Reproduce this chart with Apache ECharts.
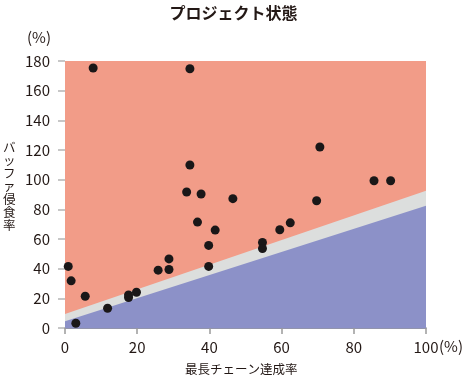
<!DOCTYPE html>
<html><head><meta charset="utf-8">
<script src="https://cdn.jsdelivr.net/npm/echarts@6/dist/echarts.min.js"></script>
<style>html,body{margin:0;padding:0;background:#fff}#c{width:467px;height:379px}</style>
</head><body><div id="c"></div>
<script>
const xTicks = [0, 20, 40, 60, 80, 100];
const yTicks = [0, 20, 40, 60, 80, 100, 120, 140, 160, 180];
const bandTop = [[0, 9.5], [100, 92.5]];
const blueTop = [[0, 4.5], [100, 82.5]];
const pointsX = [7.8, 34.6, 34.6, 33.7, 37.7, 46.5, 70.6, 85.6, 90.2, 69.7,
  0.9, 1.7, 3.0, 5.6, 11.8, 17.6, 17.6, 19.8, 25.8, 28.8, 28.8,
  36.7, 41.6, 39.8, 39.8, 54.7, 54.7, 59.5, 62.4];
const pointsY = [175.3, 174.8, 109.9, 91.7, 90.3, 87.2, 122, 99.3, 99.3, 85.8,
  41.5, 31.8, 3.2, 21.4, 13.3, 22.3, 20.5, 24.1, 39.0, 46.6, 39.4,
  71.4, 66.0, 55.7, 41.5, 57.7, 53.6, 66.2, 70.9];
const points = pointsX.map((x, i) => [x, pointsY[i]]);
const FONT = '"Noto Sans CJK JP", "Noto Sans", sans-serif';

const chart = echarts.init(document.getElementById('c'), null, {renderer: 'canvas'});
chart.setOption({
  animation: false,
  backgroundColor: '#ffffff',
  textStyle: {fontFamily: FONT},
  title: {
    text: 'プロジェクト状態', left: 'center', top: 0,
    textStyle: {fontSize: 16, fontWeight: 'bold', color: '#231815', fontFamily: FONT}
  },
  grid: {
    left: 65, right: 41, top: 61, bottom: 51,
    show: true, backgroundColor: '#f29c88', borderWidth: 0
  },
  xAxis: {
    type: 'value', min: xTicks[0], max: xTicks[xTicks.length - 1], interval: 20,
    axisLine: {show: true, lineStyle: {color: '#6f7191', width: 1.5}},
    axisTick: {show: true, length: 6, lineStyle: {color: '#9a9a9a', width: 1.5}},
    axisLabel: {fontSize: 15, color: '#231815', margin: 12, fontFamily: FONT},
    splitLine: {show: false}
  },
  yAxis: {
    type: 'value', min: yTicks[0], max: yTicks[yTicks.length - 1], interval: 20,
    axisLine: {show: false},
    axisTick: {show: true, length: 7, lineStyle: {color: '#b5b5b5', width: 1.5}},
    axisLabel: {fontSize: 15, color: '#231815', margin: 15, fontFamily: FONT},
    splitLine: {show: false}
  },
  graphic: [
    {type: 'text', left: 27, top: 30, style: {text: '(%)', font: '15px ' + FONT, fill: '#231815'}},
    {type: 'text', left: 439, top: 339, style: {text: '(%)', font: '15px ' + FONT, fill: '#231815'}},
    {type: 'text', left: 185, top: 363, style: {text: '最長チェーン達成率', font: '12.5px ' + FONT, fill: '#231815'}},
    {type: 'text', left: 3, top: 141, style: {text: 'バ\nッ\nフ\nァ\n侵\n食\n率', font: '12.5px ' + FONT, fill: '#231815', lineHeight: 13, align: 'center'}}
  ],
  series: [
    {
      type: 'line', data: bandTop, symbol: 'none', silent: true,
      lineStyle: {width: 0}, areaStyle: {color: '#dcdedd', opacity: 1}, z: 1
    },
    {
      type: 'line', data: blueTop, symbol: 'none', silent: true,
      lineStyle: {width: 0}, areaStyle: {color: '#8c91c8', opacity: 1}, z: 2
    },
    {
      type: 'scatter', data: points, symbol: 'circle', symbolSize: 9,
      itemStyle: {color: '#1a1718', opacity: 1}, z: 5
    }
  ]
});
</script></body></html>
